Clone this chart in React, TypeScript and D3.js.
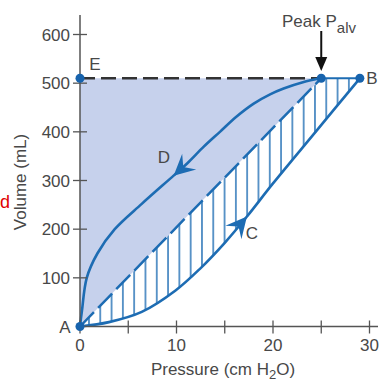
import React from 'react';
import * as d3 from 'd3';

const pressureTicks = [0, 5, 10, 15, 20, 25, 30];
const pressureLabels = [0, 10, 20, 30];
const volumeTicks = [100, 200, 300, 400, 500, 600];

// inspiration curve A -> C -> B
const inflationP = [0, 3, 6.4, 9.9, 12.4, 15, 17.3, 20, 24.5, 29];
const inflationV = [0, 9, 30, 74, 118, 172, 226, 294, 402, 510];

// expiration curve Peak -> D -> A
const deflationP = [0, 0.2, 0.7, 1.8, 3.6, 6.4, 9.7, 11.1, 12.8, 14.5, 16.2, 18, 19.7, 21.1, 23.1, 25];
const deflationV = [0, 32, 100, 150, 200, 252, 310, 335, 369, 400, 431, 458, 477, 489, 502, 510];

// labelled points
const pointA = [0, 0];
const pointB = [29, 510];
const pointE = [0, 510];
const pointPeak = [25, 510];

// arrow positions on the curves: [tip index, tail index]
const arrowD = [6, 7];
const arrowC = [6, 5];
const hatchStart = 2.1;

const BLUE = '#1d6cb3';
const DOT = '#1763ad';
const FILL = '#c6d1ec';
const AXIS = '#555';
const TEXT = '#484848';
const FONT = '"Liberation Sans", Arial, Helvetica, sans-serif';

export default function App() {
  const width = 384;
  const height = 384;

  const x = d3.scaleLinear().domain([0, 30]).range([80, 369.5]);
  const y = d3.scaleLinear().domain([0, 600]).range([326.5, 34.5]);

  const inflation = inflationP.map((p, i) => [p, inflationV[i]] as [number, number]);
  const deflation = deflationP.map((p, i) => [p, deflationV[i]] as [number, number]);

  const line = d3.line<[number, number]>()
    .x(d => x(d[0]))
    .y(d => y(d[1]))
    .curve(d3.curveCatmullRom.alpha(0.5));

  const lowerPath = line(inflation) || '';
  const upperPath = line(deflation) || '';
  const hatchRegion = `${lowerPath}L${x(pointPeak[0])},${y(pointPeak[1])}Z`;
  const triangle = `M${x(pointA[0])},${y(pointA[1])}L${x(pointE[0])},${y(pointE[1])}L${x(pointPeak[0])},${y(pointPeak[1])}Z`;

  const hatchStep = 11.3;

  const arrowHead = (pts: [number, number][], idx: number[]) => {
    const tip = pts[idx[0]];
    const tail = pts[idx[1]];
    const tx = x(tip[0]);
    const ty = y(tip[1]);
    const ang = Math.atan2(ty - y(tail[1]), tx - x(tail[0])) * 180 / Math.PI;
    return (
      <path
        d="M0,0L-21,-10.5L-13,0L-21,10.5Z"
        fill={BLUE}
        transform={`translate(${tx},${ty}) rotate(${ang})`}
      />
    );
  };

  const textStyle = { fontFamily: FONT, fontSize: 17, fill: TEXT } as const;

  return (
    <svg
      width={width}
      height={height}
      style={{ position: 'absolute', left: 0, top: 0, background: '#fff' }}
    >
      <defs>
        <pattern
          id="hatch"
          patternUnits="userSpaceOnUse"
          x={x(hatchStart) - hatchStep / 2}
          y={0}
          width={hatchStep}
          height={20}
        >
          <line x1={hatchStep / 2} x2={hatchStep / 2} y1={0} y2={20} stroke={BLUE} strokeWidth={1.4} />
        </pattern>
      </defs>

      {/* shaded work area */}
      <path d={triangle} fill={FILL} />
      <path d={hatchRegion} fill="url(#hatch)" />

      {/* dashed top line E -> peak */}
      <line
        x1={x(pointE[0])} x2={x(pointPeak[0])}
        y1={y(pointE[1])} y2={y(pointPeak[1])}
        stroke="#333" strokeWidth={2.5} strokeDasharray="15,6"
      />
      {/* dashed compliance line A -> peak */}
      <line
        x1={x(pointA[0])} x2={x(pointPeak[0])}
        y1={y(pointA[1])} y2={y(pointPeak[1])}
        stroke={BLUE} strokeWidth={2.5} strokeDasharray="20,6"
      />
      {/* peak -> B */}
      <line
        x1={x(pointPeak[0])} x2={x(pointB[0])}
        y1={y(pointPeak[1])} y2={y(pointB[1])}
        stroke={BLUE} strokeWidth={2}
      />
      <path d={lowerPath} fill="none" stroke={BLUE} strokeWidth={2.6} />
      <path d={upperPath} fill="none" stroke={BLUE} strokeWidth={2.6} />

      {/* axes */}
      <line x1={x(0)} x2={x(0)} y1={15} y2={y(0)} stroke={AXIS} strokeWidth={1.5} />
      <line x1={x(0)} x2={378} y1={y(0)} y2={y(0)} stroke={AXIS} strokeWidth={1.5} />
      {volumeTicks.map(v => (
        <g key={`vt${v}`}>
          <line x1={x(0) - 7} x2={x(0) + 7} y1={y(v)} y2={y(v)} stroke={AXIS} strokeWidth={1.3} />
          <text x={70} y={y(v) + 6} textAnchor="end" style={textStyle}>{v}</text>
        </g>
      ))}
      {pressureTicks.map(p => (
        <line key={`pt${p}`} x1={x(p)} x2={x(p)} y1={y(0) - 6} y2={y(0) + 7} stroke={AXIS} strokeWidth={1.3} />
      ))}
      {pressureLabels.map(p => (
        <text key={`pl${p}`} x={x(p)} y={351} textAnchor="middle" style={textStyle}>{p}</text>
      ))}

      <text x={223} y={375} textAnchor="middle" style={textStyle}>
        Pressure (cm H<tspan fontSize={13} dy={4}>2</tspan><tspan dy={-4}>O)</tspan>
      </text>
      <text
        transform="translate(26,182) rotate(-90)"
        textAnchor="middle"
        style={textStyle}
      >
        Volume (mL)
      </text>

      {/* arrows along the loop */}
      {arrowHead(deflation, arrowD)}
      {arrowHead(inflation, arrowC)}

      {/* points */}
      {[pointA, pointB, pointE, pointPeak].map((d, i) => (
        <circle key={`pt${i}`} cx={x(d[0])} cy={y(d[1])} r={4.5} fill={DOT} />
      ))}

      {/* peak alveolar pressure marker */}
      <line x1={x(pointPeak[0])} x2={x(pointPeak[0])} y1={31} y2={60} stroke="#111" strokeWidth={2} />
      <path
        d={`M${x(pointPeak[0]) - 6},${57}L${x(pointPeak[0]) + 6},${57}L${x(pointPeak[0])},${71}Z`}
        fill="#111"
      />
      <text x={282} y={27} style={textStyle}>
        Peak P<tspan fontSize={15} dy={6}>alv</tspan>
      </text>

      {/* point labels */}
      <text x={x(pointE[0]) + 15} y={y(pointE[1]) - 8} textAnchor="middle" style={textStyle}>E</text>
      <text x={x(pointB[0]) + 12} y={y(pointB[1]) + 6} textAnchor="middle" style={textStyle}>B</text>
      <text x={x(pointA[0]) - 15} y={y(pointA[1]) + 6} textAnchor="middle" style={textStyle}>A</text>
      <text x={164} y={163} textAnchor="middle" style={textStyle}>D</text>
      <text x={252} y={239} textAnchor="middle" style={textStyle}>C</text>

      <text x={0} y={208} style={{ fontFamily: FONT, fontSize: 18, fill: '#e00000' }}>d</text>
    </svg>
  );
}
